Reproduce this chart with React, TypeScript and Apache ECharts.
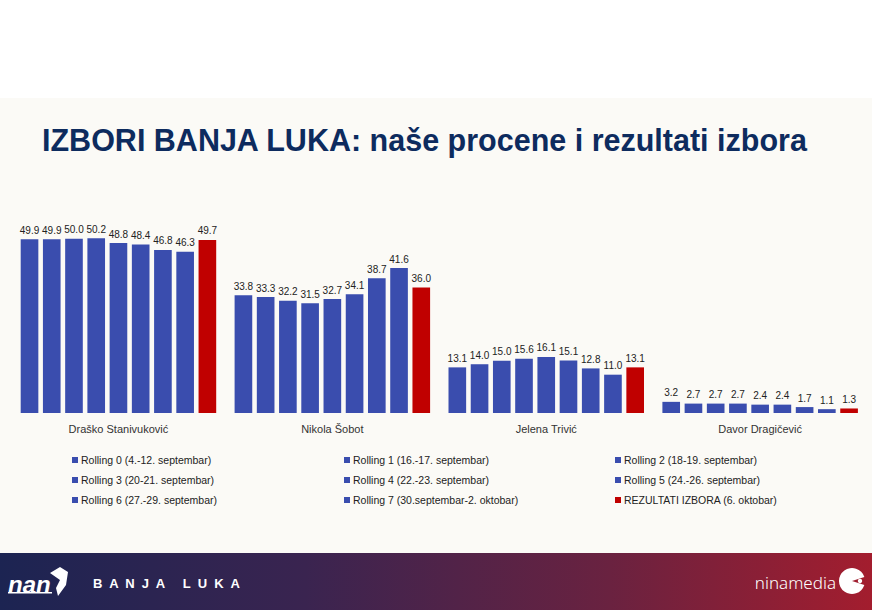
import React, { useEffect, useRef } from "react";
import * as echarts from "echarts";

const categories = ["Draško Stanivuković", "Nikola Šobot", "Jelena Trivić", "Davor Dragičević"];

const seriesNames = [
  "Rolling 0 (4.-12. septembar)",
  "Rolling 1 (16.-17. septembar)",
  "Rolling 2 (18-19. septembar)",
  "Rolling 3 (20-21. septembar)",
  "Rolling 4 (22.-23. septembar)",
  "Rolling 5 (24.-26. septembar)",
  "Rolling 6 (27.-29. septembar)",
  "Rolling 7 (30.septembar-2. oktobar)",
  "REZULTATI IZBORA (6. oktobar)",
];

const rolling0 = [49.9, 33.8, 13.1, 3.2];
const rolling1 = [49.9, 33.3, 14.0, 2.7];
const rolling2 = [50.0, 32.2, 15.0, 2.7];
const rolling3 = [50.2, 31.5, 15.6, 2.7];
const rolling4 = [48.8, 32.7, 16.1, 2.4];
const rolling5 = [48.4, 34.1, 15.1, 2.4];
const rolling6 = [46.8, 38.7, 12.8, 1.7];
const rolling7 = [46.3, 41.6, 11.0, 1.1];
const results = [49.7, 36.0, 13.1, 1.3];

const seriesValues = [rolling0, rolling1, rolling2, rolling3, rolling4, rolling5, rolling6, rolling7, results];

const BLUE = "#3a4dae";
const RED = "#c00000";
const FONT = "'Liberation Sans', Arial, sans-serif";

export default function App() {
  const ref = useRef<HTMLDivElement>(null);

  useEffect(() => {
    document.body.style.margin = "0";
    if (!ref.current) return;
    const chart = echarts.init(ref.current, null, { renderer: "svg" });

    const series = seriesNames.map((name, i) => ({
      name,
      type: "bar",
      data: seriesValues[i],
      barGap: "26%",
      barCategoryGap: "8.6%",
      itemStyle: { color: i === 8 ? RED : BLUE },
      label: {
        show: true,
        position: "top",
        distance: 4,
        fontSize: 10,
        fontFamily: FONT,
        color: "#222",
        formatter: (p: any) => Number(p.value).toFixed(1),
      },
    }));

    const legendCol = (names: string[], left: number) => ({
      orient: "vertical",
      left,
      top: 454,
      padding: 0,
      itemWidth: 6,
      itemHeight: 6,
      itemGap: 8,
      icon: "rect",
      data: names,
      selectedMode: false,
      textStyle: { fontSize: 10.5, fontFamily: FONT, color: "#222", lineHeight: 12, padding: [0, 0, 0, -2] },
    });

    chart.setOption({
      animation: false,
      backgroundColor: "#ffffff",
      graphic: [
        { type: "rect", shape: { x: 0, y: 98, width: 872, height: 455 }, style: { fill: "#fbfaf6" }, z: -10 },
        {
          type: "rect",
          shape: { x: 0, y: 553, width: 872, height: 57 },
          style: {
            fill: new echarts.graphic.LinearGradient(0, 0, 1, 0, [
              { offset: 0, color: "#1c2452" },
              { offset: 0.35, color: "#3a2450" },
              { offset: 0.7, color: "#6a2240" },
              { offset: 1, color: "#a31d2e" },
            ]),
          },
          z: -10,
        },
        {
          type: "text",
          x: 42,
          y: 140,
          scaleX: 1,
          style: {
            text: "IZBORI BANJA LUKA: naše procene i rezultati izbora",
            fontSize: 30.5,
            fontWeight: "bold",
            fontFamily: FONT,
            fill: "#0d2b5e",
            textVerticalAlign: "middle",
          },
        },
        {
          type: "text",
          x: 8,
          y: 584,
          style: {
            text: "nan",
            fontSize: 24,
            fontWeight: "bold",
            fontStyle: "italic",
            fontFamily: FONT,
            fill: "#ffffff",
            textVerticalAlign: "middle",
          },
        },
        { type: "rect", shape: { x: 8, y: 592, width: 44, height: 1.5 }, style: { fill: "#ffffff" } },
        {
          type: "polygon",
          shape: { points: [[50, 573], [60, 567], [68, 572], [66, 585], [58, 596], [56, 588], [60, 580]] },
          style: { fill: "#ffffff" },
        },
        {
          type: "text",
          x: 93,
          y: 583,
          style: {
            text: "B  A  N  J  A     L  U  K  A",
            fontSize: 13,
            fontWeight: "bold",
            fontFamily: FONT,
            fill: "#ffffff",
            textVerticalAlign: "middle",
          },
        },
        {
          type: "text",
          x: 836,
          y: 582,
          style: {
            text: "ninamedia",
            fontSize: 17,
            fontFamily: "'Noto Sans', sans-serif",
            fontWeight: 300,
            fill: "#ffffff",
            textAlign: "right",
            textVerticalAlign: "middle",
          },
        },
        {
          type: "sector",
          shape: { cx: 852, cy: 581, r: 13, r0: 0, startAngle: Math.PI * 0.1, endAngle: Math.PI * 1.9, clockwise: true },
          style: { fill: "#ffffff" },
        },
        { type: "circle", shape: { cx: 860, cy: 581, r: 2.2 }, style: { fill: "#ffffff" } },
      ],
      grid: { left: 11.5, right: 4.9, top: 204, bottom: 197, containLabel: false },
      xAxis: {
        type: "category",
        data: categories,
        axisLine: { show: false },
        axisTick: { show: false },
        axisLabel: { fontSize: 11, fontFamily: FONT, color: "#333", margin: 10 },
      },
      yAxis: { type: "value", min: 0, max: 60, show: false, splitLine: { show: false } },
      legend: [
        legendCol([seriesNames[0], seriesNames[3], seriesNames[6]], 72),
        legendCol([seriesNames[1], seriesNames[4], seriesNames[7]], 344),
        legendCol([seriesNames[2], seriesNames[5], seriesNames[8]], 615),
      ],
      series,
    });

    return () => chart.dispose();
  }, []);

  return <div ref={ref} style={{ width: 872, height: 610 }} />;
}
